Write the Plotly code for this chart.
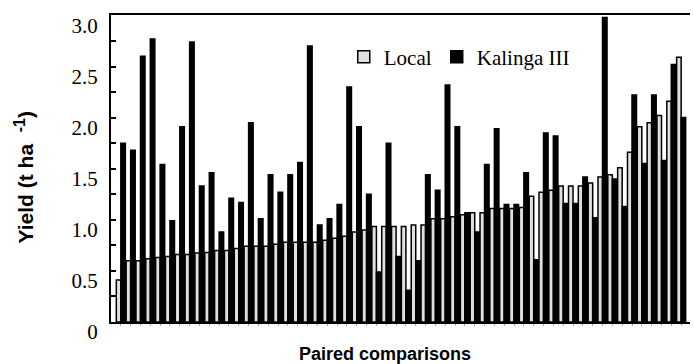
import plotly.graph_objects as go

pairs = list(range(1, 59))
local = [0.41, 0.60, 0.60, 0.62, 0.63, 0.64, 0.66, 0.66, 0.675, 0.68,
         0.70, 0.70, 0.72, 0.74, 0.74, 0.74, 0.76, 0.78, 0.78, 0.78,
         0.78, 0.80, 0.82, 0.84, 0.88, 0.90, 0.935, 0.935, 0.935, 0.935,
         0.95, 0.95, 1.01, 1.01, 1.03, 1.05, 1.07, 1.07, 1.11, 1.11,
         1.11, 1.12, 1.23, 1.27, 1.29, 1.33, 1.33, 1.33, 1.36, 1.42,
         1.44, 1.51, 1.66, 1.91, 1.95, 2.02, 2.16, 2.59]
kalinga = [1.75, 1.68, 2.60, 2.77, 1.54, 0.99, 1.91, 2.74, 1.33, 1.46,
           0.88, 1.21, 1.17, 1.95, 1.01, 1.44, 1.27, 1.44, 1.56, 2.70,
           0.95, 1.01, 1.15, 2.30, 1.91, 1.25, 0.49, 1.75, 0.64, 0.31,
           0.60, 1.44, 1.29, 2.32, 1.91, 1.07, 0.88, 1.54, 1.89, 1.15,
           1.15, 1.46, 0.61, 1.85, 1.82, 1.16, 1.16, 1.42, 1.02, 2.98,
           1.40, 1.13, 2.22, 1.55, 2.22, 1.58, 2.52, 2.00]
ytick_vals = [0, 0.5, 1.0, 1.5, 2.0, 2.5, 3.0]
ytick_text = ["0", "0.5", "1.0", "1.5", "2.0", "2.5", "3.0"]

serif = "Liberation Serif, Times New Roman, serif"
sans = "Liberation Sans, Arial, sans-serif"

fig = go.Figure()
fig.add_trace(go.Bar(x=pairs, y=local, name="Local",
                     marker=dict(color="#e0e0e0", line=dict(color="black", width=1.5))))
fig.add_trace(go.Bar(x=pairs, y=kalinga, name="Kalinga III",
                     marker=dict(color="black", line=dict(color="black", width=1.5))))

fig.update_layout(
    width=693, height=364,
    margin=dict(l=111, r=3, t=15, b=42),
    barmode="group", bargap=0.08, bargroupgap=0,
    plot_bgcolor="white", paper_bgcolor="white",
    showlegend=True,
    legend=dict(orientation="h", x=0.402, y=0.93, xanchor="left", yanchor="top",
                font=dict(family=serif, size=21, color="black"),
                bgcolor="rgba(0,0,0,0)", itemwidth=30, traceorder="normal"),
    xaxis=dict(range=[0.0, 58.9], showline=True, linecolor="black", linewidth=2,
               mirror=True, showgrid=False, zeroline=False, automargin=False,
               tickvals=pairs, ticktext=[""] * len(pairs),
               ticks="outside", ticklen=2, tickcolor="#aaaaaa", tickwidth=1),
    yaxis=dict(range=[0, 3.004], showline=True, linecolor="black", linewidth=2,
               showgrid=False, zeroline=False, automargin=False,
               tickvals=ytick_vals, ticktext=ytick_text,
               ticks="inside", ticklen=5, tickwidth=2, tickcolor="black",
               minor=dict(dtick=0.25, tick0=0, ticks="inside", ticklen=5, tickwidth=2, tickcolor="black"),
               tickfont=dict(family=serif, size=21, color="black"),
               ticklabelstandoff=7, ticklabelshift=10),
    annotations=[
        dict(text="<b>Paired comparisons</b>", xref="paper", yref="paper",
             x=0.473, y=0, yshift=-32, xanchor="center", yanchor="middle",
             showarrow=False, font=dict(family=sans, size=18, color="black")),
        dict(text="<b>Yield (t ha  <sup><span style='font-size:16px'>-1</span></sup>)</b>",
             xref="paper", yref="paper",
             x=0, xshift=-87, y=0.5, yshift=-9, xanchor="center", yanchor="middle",
             textangle=-90, showarrow=False, font=dict(family=sans, size=21, color="black")),
    ],
)

fig.write_html("out.html", config={"displayModeBar": False},
               post_script="document.body.style.margin='0';document.body.style.padding='0';")
